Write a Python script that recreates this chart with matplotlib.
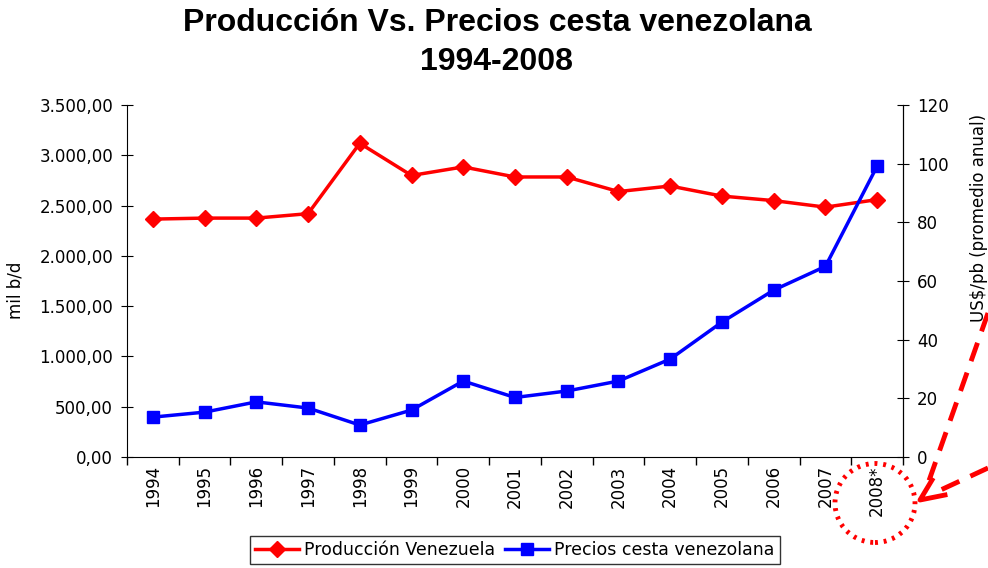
import matplotlib.pyplot as plt
from matplotlib.patches import Ellipse
from matplotlib import font_manager
import numpy as np

years = ['1994', '1995', '1996', '1997', '1998', '1999', '2000', '2001',
         '2002', '2003', '2004', '2005', '2006', '2007', '2008*']
produccion = [2366, 2376, 2376, 2420, 3120, 2800, 2885, 2785,
              2785, 2640, 2695, 2595, 2550, 2485, 2560]
precios = [13.6, 15.3, 18.8, 16.7, 10.9, 16.0, 25.9, 20.3,
           22.5, 25.9, 33.4, 46.0, 56.9, 65.0, 99.2]
left_ticks = [0, 500, 1000, 1500, 2000, 2500, 3000, 3500]
left_labels = ['0,00', '500,00', '1.000,00', '1.500,00', '2.000,00',
               '2.500,00', '3.000,00', '3.500,00']
right_ticks = [0, 20, 40, 60, 80, 100, 120]

# bold Arial-like font for the title (avoid the Narrow variant)
title_font = font_manager.FontProperties(family='Liberation Sans', weight='bold', size=23)
for f in font_manager.fontManager.ttflist:
    if f.name == 'Liberation Sans' and f.weight in (700, 'bold') and 'Narrow' not in f.fname \
            and 'Italic' not in f.fname:
        title_font = font_manager.FontProperties(fname=f.fname, size=23)
        break

plt.rcParams['font.family'] = 'DejaVu Sans'
fig = plt.figure(figsize=(9.88, 5.68), dpi=100)
ax = fig.add_axes([0.1285, 0.1954, 0.7855, 0.6196])
ax2 = ax.twinx()

x = np.arange(len(years))
l1, = ax.plot(x, produccion, color='#ff0000', linewidth=2.5, marker='D',
              markersize=8, label='Producción Venezuela')
l2, = ax2.plot(x, precios, color='#0000ff', linewidth=2.5, marker='s',
               markersize=8, label='Precios cesta venezolana')

ax.set_xlim(-0.5, len(years) - 0.5)
ax.set_ylim(0, 3500)
ax2.set_ylim(0, 120)
ax.set_yticks(left_ticks)
ax.set_yticklabels(left_labels)
ax2.set_yticks(right_ticks)

ax.set_xticks(x)
ax.set_xticklabels(years, rotation=90)
ax.set_xticks(np.arange(-0.5, len(years)), minor=True)
ax.tick_params(axis='x', which='major', length=0, pad=6, labelsize=12)
ax.tick_params(axis='x', which='minor', length=6, width=1, direction='out')
ax.tick_params(axis='y', length=8, direction='inout', labelsize=12, pad=6)
ax2.tick_params(axis='y', length=8, direction='inout', labelsize=12, pad=6)

for a in (ax, ax2):
    a.spines['top'].set_visible(False)
ax2.spines['left'].set_visible(False)
ax2.spines['bottom'].set_visible(False)

ax.set_ylabel('mil b/d', fontsize=12, va='center', ha='center')
ax.yaxis.set_label_coords(-0.143, 0.474)
ax2.set_ylabel('US$/pb (promedio anual)', fontsize=12, va='center', ha='center')
ax2.yaxis.set_label_coords(1.098, 0.68)

fig.text(0.503, 1 - 23 / 568, 'Producción Vs. Precios cesta venezolana',
         ha='center', va='center', fontproperties=title_font)
fig.text(0.503, 1 - 62 / 568, '1994-2008',
         ha='center', va='center', fontproperties=title_font)

fig.legend(handles=[l1, l2], loc='center', bbox_to_anchor=(0.521, 0.032),
           ncol=2, fontsize=12.5, frameon=True, fancybox=False,
           edgecolor='black', handlelength=2.5, handletextpad=0.3,
           columnspacing=0.6, borderpad=0.3)

# dotted circle around 2008* and dashed arrow
W, H = 988, 568
circ = Ellipse((875 / W, 1 - 503 / H), 80 / W, 79 / H, transform=fig.transFigure,
               fill=False, edgecolor='#ff0000', linewidth=3.5, linestyle=(0, (0.6, 1.2)),
               clip_on=False)
fig.patches.append(circ)
fig.add_artist(plt.Line2D([988 / W, 925 / W], [1 - 313 / H, 1 - 492 / H],
                          transform=fig.transFigure, color='#ff0000',
                          linewidth=3.5, linestyle=(0, (4, 2.5))))
fig.add_artist(plt.Line2D([988 / W, 932 / W], [1 - 468 / H, 1 - 494 / H],
                          transform=fig.transFigure, color='#ff0000',
                          linewidth=3.5, linestyle=(0, (4, 2.5))))
fig.add_artist(plt.Line2D([932 / W, 920 / W, 945 / W],
                          [1 - 480 / H, 1 - 500 / H, 1 - 495 / H],
                          transform=fig.transFigure, color='#ff0000',
                          linewidth=3.5))

fig.savefig('out.png', dpi=100)
